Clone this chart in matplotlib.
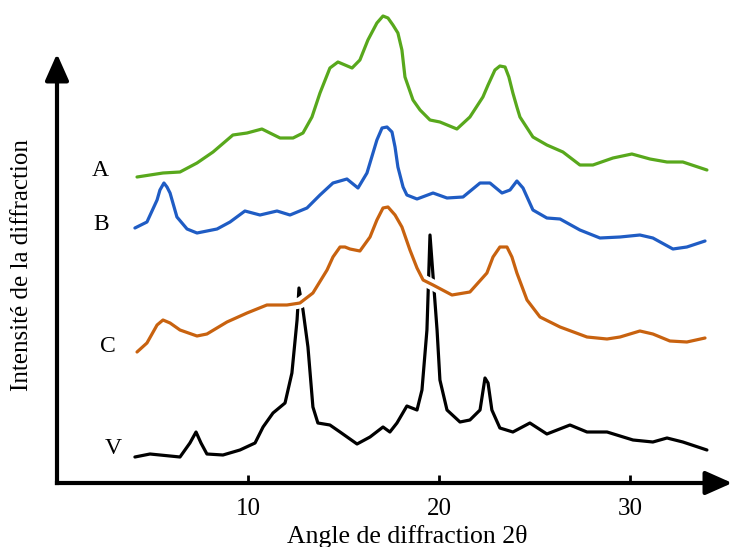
import numpy as np
import matplotlib
matplotlib.use("Agg")
import matplotlib.pyplot as plt
import matplotlib.patheffects as pe

plt.rcParams['font.family'] = ['Liberation Serif', 'DejaVu Serif']

# 2theta (deg) / intensity (arbitrary units, offset curves)
a_x = [4.19, 5.55, 6.44, 7.33, 8.17, 9.21, 9.95, 10.73, 11.15, 11.68, 12.36, 12.88,
       13.35, 13.77, 14.29, 14.71, 15.08, 15.45, 15.86, 16.28, 16.75, 17.07, 17.33, 17.59,
       17.85, 18.06, 18.22, 18.64, 19.01, 19.53, 20.05, 20.94, 21.62, 22.30, 22.57, 22.93,
       23.19, 23.46, 23.66, 23.87, 24.08, 24.24, 24.92, 25.65, 26.49, 27.38, 28.06, 29.11,
       30.10, 31.05, 31.94, 32.77, 34.03]
a_y = [306, 310, 311, 320, 331, 348, 350, 354, 350, 345, 345, 350,
       366, 390, 415, 421, 418, 415, 423, 443, 460, 467, 465, 458,
       450, 433, 406, 383, 373, 363, 361, 354, 366, 386, 398, 413,
       417, 416, 406, 390, 376, 366, 346, 338, 331, 318, 318, 325,
       329, 324, 321, 321, 313]

b_x = [4.08, 4.71, 5.24, 5.39, 5.60, 5.76, 5.92, 6.28, 6.81, 7.33, 8.38, 9.06, 9.84,
       10.63, 11.52, 12.20, 13.09, 13.77, 14.45, 15.18, 15.76, 16.23, 16.75, 17.02, 17.28,
       17.54, 17.70, 17.85, 18.12, 18.32, 18.85, 19.69, 20.42, 21.26, 22.15, 22.67, 23.30,
       23.72, 24.08, 24.40, 24.92, 25.65, 26.34, 27.38, 28.43, 29.48, 30.52, 31.20, 32.25,
       32.98, 33.93]
b_y = [255, 261, 283, 293, 300, 296, 290, 266, 254, 250, 254, 261, 272,
       268, 272, 268, 275, 288, 300, 304, 295, 310, 343, 355, 356,
       351, 336, 316, 296, 288, 284, 290, 285, 286, 300, 300, 290,
       293, 302, 295, 273, 265, 264, 253, 245, 246, 248, 245, 234,
       236, 242]

c_x = [4.19, 4.71, 5.24, 5.55, 5.92, 6.44, 7.33, 7.85, 8.90, 9.95, 10.99, 12.04, 12.72,
       13.40, 14.14, 14.45, 14.82, 15.08, 15.34, 15.86, 16.39, 16.75, 17.07, 17.33, 17.70,
       18.06, 18.48, 18.85, 19.17, 19.69, 20.68, 21.62, 22.51, 22.83, 23.19, 23.56, 23.82,
       24.08, 24.61, 25.29, 26.34, 27.75, 28.80, 29.48, 30.52, 31.20, 32.09, 32.98, 33.93]
c_y = [131, 140, 158, 163, 160, 153, 147, 149, 161, 170, 178, 178, 180,
       190, 213, 226, 236, 236, 234, 232, 246, 263, 275, 276, 268,
       256, 233, 215, 203, 198, 188, 191, 210, 226, 236, 236, 226,
       210, 183, 166, 156, 146, 144, 146, 152, 149, 142, 141, 145]

v_x = [4.08, 4.87, 6.44, 6.96, 7.28, 7.54, 7.85, 8.69, 9.58, 10.37, 10.79, 11.31, 11.94,
       12.30, 12.57, 12.67, 12.88, 13.14, 13.40, 13.66, 14.29, 14.82, 15.71, 16.39, 17.07,
       17.43, 17.80, 18.32, 18.85, 19.11, 19.37, 19.53, 19.90, 20.05, 20.42, 21.10, 21.62,
       22.15, 22.41, 22.57, 22.77, 23.19, 23.87, 24.76, 25.65, 26.86, 27.75, 28.80, 30.16,
       31.20, 31.94, 32.77, 34.03]
v_y = [26, 29, 26, 40, 51, 40, 29, 28, 33, 40, 56, 70, 80,
       110, 163, 195, 173, 136, 76, 60, 58, 51, 39, 46, 56,
       51, 60, 77, 73, 93, 153, 248, 153, 103, 73, 61, 63,
       73, 105, 100, 73, 55, 51, 60, 49, 58, 51, 51, 43,
       41, 45, 41, 33]

names = ['A', 'B', 'C', 'V']
name_pos = [(2.25, 313), (2.30, 259), (2.67, 136), (2.93, 34)]
xticks = [10, 20, 30]

fig = plt.figure(figsize=(7.35, 5.47), dpi=100)
ax = fig.add_axes([0, 0, 1, 1])
ax.set_xlim(-2.984, 35.50)
ax.set_ylim(-64, 483)

lw = 2.3
kw = dict(lw=lw, solid_joinstyle='round', solid_capstyle='round')
ax.plot(v_x, v_y, color='black', zorder=2, **kw)
ax.plot(c_x, c_y, color='#c8620f', zorder=3,
        path_effects=[pe.Stroke(linewidth=8, foreground='white'), pe.Normal()], **kw)
ax.plot(b_x, b_y, color='#1f5cc4', zorder=3, **kw)
ax.plot(a_x, a_y, color='#58a81c', zorder=3, **kw)

for n, (x, y) in zip(names, name_pos):
    ax.text(x, y, n, fontsize=17, ha='center', va='center')

# axes with arrows
for s in ['top', 'right']:
    ax.spines[s].set_visible(False)
ax.spines['bottom'].set_position(('data', 0))
ax.spines['left'].set_position(('data', 0))
ax.spines['bottom'].set_bounds(0, 35.0)
ax.spines['left'].set_bounds(0, 420)
ax.spines['bottom'].set_linewidth(3)
ax.spines['left'].set_linewidth(3)
ax.annotate('', xy=(35.5, 0), xytext=(34.5, 0),
            arrowprops=dict(arrowstyle='-|>,head_length=0.9,head_width=0.4',
                            color='black', lw=3, mutation_scale=18))
ax.annotate('', xy=(0, 432), xytext=(0, 410),
            arrowprops=dict(arrowstyle='-|>,head_length=0.9,head_width=0.4',
                            color='black', lw=3, mutation_scale=18))

ax.set_xticks(xticks)
ax.set_xticklabels([str(t) for t in xticks])
ax.set_yticks([])
ax.tick_params(axis='x', direction='in', length=6, width=2, pad=11, labelsize=18)

ax.text(18.32, -54, 'Angle de diffraction 2θ', fontsize=18.5, ha='center', va='center')
ax.text(-1.83, 218, 'Intensité de la diffraction', fontsize=18, ha='center', va='center',
        rotation=90)

fig.savefig('out.png', dpi=100)
